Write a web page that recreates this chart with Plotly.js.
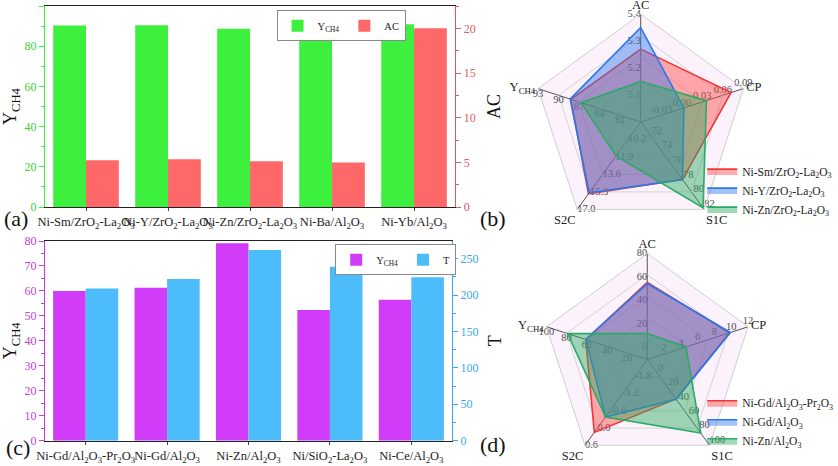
<!DOCTYPE html>
<html>
<head>
<meta charset="utf-8">
<script src="https://cdn.plot.ly/plotly-3.0.1.min.js"></script>
<style>html,body{margin:0;padding:0;background:#fff;overflow:hidden}#chart{width:838px;height:466px}</style>
</head>
<body>
<div id="chart"></div>
<script>
// ---------- Data ----------
const catsA = ['Ni-Sm/ZrO<sub>2</sub>-La<sub>2</sub>O<sub>3</sub>', 'Ni-Y/ZrO<sub>2</sub>-La<sub>2</sub>O<sub>3</sub>', 'Ni-Zn/ZrO<sub>2</sub>-La<sub>2</sub>O<sub>3</sub>', 'Ni-Ba/Al<sub>2</sub>O<sub>3</sub>', 'Ni-Yb/Al<sub>2</sub>O<sub>3</sub>'];
const ych4A = [90.3, 90.4, 88.7, 83.1, 90.9];
const acA = [5.23, 5.34, 5.12, 4.97, 20.0];

const catsC = ['Ni-Gd/Al<sub>2</sub>O<sub>3</sub>-Pr<sub>2</sub>O<sub>3</sub>', 'Ni-Gd/Al<sub>2</sub>O<sub>3</sub>', 'Ni-Zn/Al<sub>2</sub>O<sub>3</sub>', 'Ni/SiO<sub>2</sub>-La<sub>2</sub>O<sub>3</sub>', 'Ni-Ce/Al<sub>2</sub>O<sub>3</sub>'];
const ych4C = [60.0, 61.3, 79.1, 52.4, 56.5];
const tC = [209, 222, 262, 239, 224.5];

const radarAxes = ['AC', 'CP', 'S1C', 'S2C', 'Y<sub>CH4</sub>'];

// radar (b): per-axis scale min / max and tick labels
const loB = [5.0, -0.06, 70, 8.5, 78];
const hiB = [5.4, 0.09, 82, 17.0, 93];
const ticksB = [
  ['5.0', '5.1', '5.2', '5.3', '5.4'],
  ['-0.03', '0.00', '0.03', '0.06', '0.09'],
  ['70', '72', '74', '76', '78', '80', '82'],
  ['10.2', '11.9', '13.6', '15.3', '17.0'],
  ['81', '84', '87', '90', '93']
];
const namesB = ['Ni-Sm/ZrO<sub>2</sub>-La<sub>2</sub>O<sub>3</sub>', 'Ni-Y/ZrO<sub>2</sub>-La<sub>2</sub>O<sub>3</sub>', 'Ni-Zn/ZrO<sub>2</sub>-La<sub>2</sub>O<sub>3</sub>'];
const smB = [5.27, 0.072, 77.9, 15.5, 88.2];
const yB  = [5.35, 0.003, 77.9, 15.4, 88.3];
const znB = [5.15, 0.036, 81.8, 11.8, 86.7];

// radar (d)
const loD = [-10, 0, -20, -2.4, 0];
const hiD = [80, 12, 100, 0.6, 100];
const ticksD = [
  ['0', '20', '40', '60', '80'],
  ['2', '4', '6', '8', '10', '12'],
  ['0', '20', '40', '60', '80', '100'],
  ['-1.8', '-1.2', '-0.6', '0.0', '0.6'],
  ['20', '40', '60', '80', '100']
];
const namesD = ['Ni-Gd/Al<sub>2</sub>O<sub>3</sub>-Pr<sub>2</sub>O<sub>3</sub>', 'Ni-Gd/Al<sub>2</sub>O<sub>3</sub>', 'Ni-Zn/Al<sub>2</sub>O<sub>3</sub>'];
const gdPrD = [55.5, 9.8, 35.2, 0.15, 61];
const gdD   = [54.5, 9.9, 35.7, -0.39, 61];
const znD   = [12, 4.6, 83, -0.39, 79];

// ---------- Styles ----------
const SERIF = '"Liberation Serif", "Times New Roman", serif';
const GREEN = '#3ef03e', RED = '#ff6868', MAG = '#d03cf8', SKY = '#4cbcfa';
const radarFill = ['rgba(255,70,70,0.45)', 'rgba(50,120,235,0.45)', 'rgba(45,170,95,0.45)'];
const radarLine = ['#ee3838', '#2a78ea', '#2aaa66'];
const tickPos = ['middle left', 'top center', 'top right', 'middle right', 'bottom center'];

function norm(vals, lo, hi) {
  const r = vals.map((v, i) => (v - lo[i]) / (hi[i] - lo[i]));
  return r.concat([r[0]]);
}

const traces = [];
// bars (a)
traces.push({type: 'bar', x: catsA, y: ych4A, name: 'Y<sub>CH4</sub>', marker: {color: GREEN}, width: 0.4, offset: -0.4, xaxis: 'x', yaxis: 'y', legend: 'legend'});
traces.push({type: 'bar', x: catsA, y: acA, name: 'AC', marker: {color: RED}, width: 0.4, offset: 0, xaxis: 'x', yaxis: 'y2', legend: 'legend'});
// bars (c)
traces.push({type: 'bar', x: catsC, y: ych4C, name: 'Y<sub>CH4</sub>', marker: {color: MAG}, width: 0.4, offset: -0.4, xaxis: 'x2', yaxis: 'y3', legend: 'legend2'});
traces.push({type: 'bar', x: catsC, y: tC, name: 'T', marker: {color: SKY}, width: 0.4, offset: 0, xaxis: 'x2', yaxis: 'y4', legend: 'legend2'});

function radarTicks(ticks, lo, hi, subplot) {
  ticks.forEach((tl, i) => {
    traces.push({
      type: 'scatterpolar', subplot: subplot, mode: 'text',
      r: tl.map(t => (parseFloat(t) - lo[i]) / (hi[i] - lo[i])),
      theta: tl.map(() => radarAxes[i]),
      text: tl, textposition: tickPos[i],
      textfont: {family: SERIF, size: 10.5, color: '#4a4a4a'},
      showlegend: false, hoverinfo: 'skip', cliponaxis: false
    });
  });
}
radarTicks(ticksB, loB, hiB, 'polar');
radarTicks(ticksD, loD, hiD, 'polar2');

const thetaClosed = radarAxes.concat([radarAxes[0]]);
[smB, yB, znB].forEach((s, k) => traces.push({
  type: 'scatterpolar', subplot: 'polar', r: norm(s, loB, hiB), theta: thetaClosed,
  fill: 'toself', fillcolor: radarFill[k], mode: 'lines', line: {color: radarLine[k], width: 1.6},
  name: namesB[k], legend: 'legend3'
}));
[gdPrD, gdD, znD].forEach((s, k) => traces.push({
  type: 'scatterpolar', subplot: 'polar2', r: norm(s, loD, hiD), theta: thetaClosed,
  fill: 'toself', fillcolor: radarFill[k], mode: 'lines', line: {color: radarLine[k], width: 1.6},
  name: namesD[k], legend: 'legend4'
}));

function yax(extra) {
  return Object.assign({
    showline: true, linewidth: 1.2, ticks: 'outside', ticklen: 5, tickwidth: 1,
    showgrid: false, zeroline: false, fixedrange: true
  }, extra);
}
function xax(domain, anchor) {
  return {domain: domain, anchor: anchor, showline: true, mirror: true, linecolor: '#222', linewidth: 1.2,
    ticks: 'outside', ticklen: 3, tickangle: 0, ticklabelstandoff: 0,
    tickfont: {family: SERIF, size: 12.5, color: '#222'}, fixedrange: true};
}
function polarCfg(dx, dy) {
  return {
    domain: {x: dx, y: dy}, bgcolor: '#fbf2fb', gridshape: 'linear',
    radialaxis: {range: [0, 1], tickvals: [0.2, 0.4, 0.6, 0.8, 1], showticklabels: false, ticks: '', showline: false, gridcolor: '#d4d4d4', gridwidth: 1},
    angularaxis: {type: 'category', categoryarray: radarAxes, direction: 'clockwise', rotation: 90, gridcolor: '#555', gridwidth: 1, showline: true, linecolor: '#cfcfcf', ticks: '', tickfont: {family: SERIF, size: 12.5, color: '#222'}}
  };
}
const legendBase = {font: {family: SERIF, size: 11.5, color: '#222'}, bgcolor: 'rgba(255,255,255,0)', borderwidth: 0};
const tf = c => ({family: SERIF, size: 12, color: c});
const tt = (t, s) => ({text: t, font: {family: SERIF, size: 18, color: '#111'}, standoff: s});

const layout = {
  width: 838, height: 466, margin: {l: 0, r: 0, t: 0, b: 0, autoexpand: false},
  paper_bgcolor: '#fff', plot_bgcolor: 'rgba(0,0,0,0)',
  font: {family: SERIF, color: '#111'},
  xaxis: xax([0.0537, 0.543], 'y'),
  yaxis: yax({domain: [0.5558, 0.9871], anchor: 'x', range: [0, 100], dtick: 20, linecolor: GREEN, tickcolor: GREEN, tickfont: tf('#3cd03c'), minor: {ticks: 'outside', ticklen: 3, tickcolor: GREEN, dtick: 10}, title: tt('Y<sub>CH4</sub>', 10)}),
  yaxis2: yax({overlaying: 'y', side: 'right', anchor: 'x', range: [0, 22.5], dtick: 5, linecolor: '#e05a5a', tickcolor: '#e05a5a', tickfont: tf('#e05a5a'), minor: {ticks: 'outside', ticklen: 3, tickcolor: '#e05a5a', dtick: 2.5}, title: tt('AC', 12)}),
  xaxis2: xax([0.0537, 0.5394], 'y3'),
  yaxis3: yax({domain: [0.0543, 0.4828], anchor: 'x2', range: [0, 80], dtick: 10, linecolor: '#c040d8', tickcolor: '#c040d8', tickfont: tf('#c040d8'), minor: {ticks: 'outside', ticklen: 3, tickcolor: '#c040d8', dtick: 5}, title: tt('Y<sub>CH4</sub>', 10)}),
  yaxis4: yax({overlaying: 'y3', side: 'right', anchor: 'x2', range: [0, 274.3], dtick: 50, linecolor: '#3aa8e0', tickcolor: '#3aa8e0', tickfont: tf('#3aa8e0'), minor: {ticks: 'outside', ticklen: 3, tickcolor: '#3aa8e0', dtick: 25}, title: tt('T', 10)}),
  polar: polarCfg([0.6357, 0.8934], [0.5064, 0.97]),
  polar2: polarCfg([0.6459, 0.8989], [0.0011, 0.456]),
  legend: Object.assign({}, legendBase, {font: {family: SERIF, size: 10.5, color: '#222'}, orientation: 'h', x: 0.33, y: 0.978, xanchor: 'left', yanchor: 'top', bgcolor: '#fff', bordercolor: '#888', borderwidth: 1}),
  legend2: Object.assign({}, legendBase, {font: {family: SERIF, size: 10.5, color: '#222'}, orientation: 'h', x: 0.40, y: 0.476, xanchor: 'left', yanchor: 'top', bgcolor: '#fff', bordercolor: '#888', borderwidth: 1}),
  legend3: Object.assign({}, legendBase, {x: 0.838, y: 0.664, xanchor: 'left', yanchor: 'top', tracegroupgap: 0}),
  legend4: Object.assign({}, legendBase, {x: 0.838, y: 0.167, xanchor: 'left', yanchor: 'top', tracegroupgap: 0}),
  annotations: [
    {text: '(a)', x: 2, y: 218},
    {text: '(b)', x: 478, y: 218},
    {text: '(c)', x: 4, y: 447},
    {text: '(d)', x: 478, y: 444}
  ].map(a => ({text: a.text, xref: 'paper', yref: 'paper', x: a.x / 838, y: 1 - a.y / 466, xanchor: 'left', yanchor: 'middle', showarrow: false, font: {family: SERIF, size: 22, color: '#111'}})),
  showlegend: true
};

Plotly.newPlot('chart', traces, layout, {displayModeBar: false, staticPlot: true});
</script>
</body>
</html>
